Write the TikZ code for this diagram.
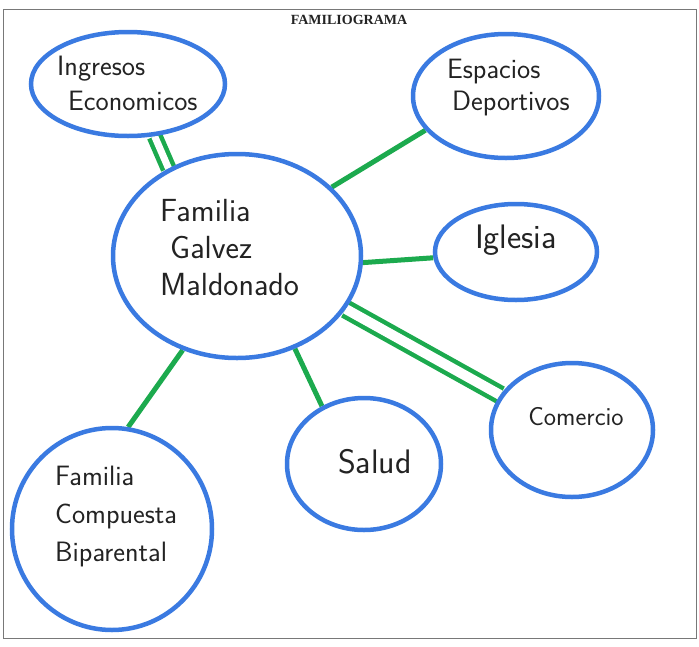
\documentclass[tikz,border=0pt]{standalone}
\usepackage{fontspec}
\newfontfamily\titlefont{Liberation Serif}
\usetikzlibrary{shapes.geometric,backgrounds}
\definecolor{bubblec}{RGB}{58,122,225}
\definecolor{tiec}{RGB}{28,170,78}
\definecolor{inkc}{RGB}{35,35,35}
\definecolor{framec}{RGB}{120,120,120}
\begin{document}
\begin{tikzpicture}[x=1pt,y=-1pt,
  bubble/.style={ellipse, draw=bubblec, line width=4.5pt, inner sep=0pt},
  hand/.style 2 args={text=inkc, font=\sffamily\fontsize{#1}{#2}\selectfont, align=left, inner sep=0pt},
  tie/.style={draw=tiec, line width=5pt},
  tiedouble/.style={draw=tiec, line width=4.5pt, double=white, double distance=#1},
  tiedouble/.default=7pt]
\useasboundingbox (0,0) rectangle (699,646);
\draw[framec, line width=0.8pt] (3,9) rectangle (696,638);
\node[font=\titlefont\bfseries\fontsize{14}{16}\selectfont, text=inkc] (title) at (349,20) {FAMILIOGRAMA};

% bubbles
\node[bubble, minimum width=194pt, minimum height=104pt] (ing) at (128,84) {};
\node[bubble, minimum width=186pt, minimum height=124pt] (esp) at (506,96) {};
\node[bubble, minimum width=248pt, minimum height=204pt] (fam) at (237,256) {};
\node[bubble, minimum width=162pt, minimum height=96pt] (igl) at (516,252) {};
\node[bubble, minimum width=162pt, minimum height=134pt] (com) at (572,430) {};
\node[bubble, minimum width=154pt, minimum height=132pt] (sal) at (364,464) {};
\node[bubble, minimum width=200pt, minimum height=202pt] (bip) at (112,529) {};

% texts
\node[hand={28}{35}, anchor=west] (ingT) at (57,83) {Ingresos\\\hspace*{11pt}Economicos};
\node[hand={28}{32}, anchor=west] (espT) at (447,88) {Espacios\\\hspace*{5pt}Deportivos};
\node[hand={32}{37}, anchor=west] (famT) at (160,248) {Familia\\\hspace*{10pt}Galvez\\Maldonado};
\node[hand={34}{40}] (iglT) at (516,240) {Iglesia};
\node[hand={26}{32}] (comT) at (576,417) {Comercio};
\node[hand={34}{40}] (salT) at (375,462) {Salud};
\node[hand={28}{38}, anchor=west] (bipT) at (55,517) {Familia\\Compuesta\\Biparental};

% connectors (behind the bubbles)
\begin{scope}[on background layer]
\fill[white] (0,0) rectangle (699,646);
\draw[tiedouble=7pt] (ing.-63) -- (fam.128);
\draw[tie] (fam.36) -- (esp.203);
\draw[tie] (fam.-3) -- (igl.184);
\draw[tiedouble=10pt] (fam.-26) -- (com.154);
\draw[tie] (fam.-58) -- (sal.126);
\draw[tie] (fam.-120) -- (bip.81);
\end{scope}
\end{tikzpicture}
\end{document}
